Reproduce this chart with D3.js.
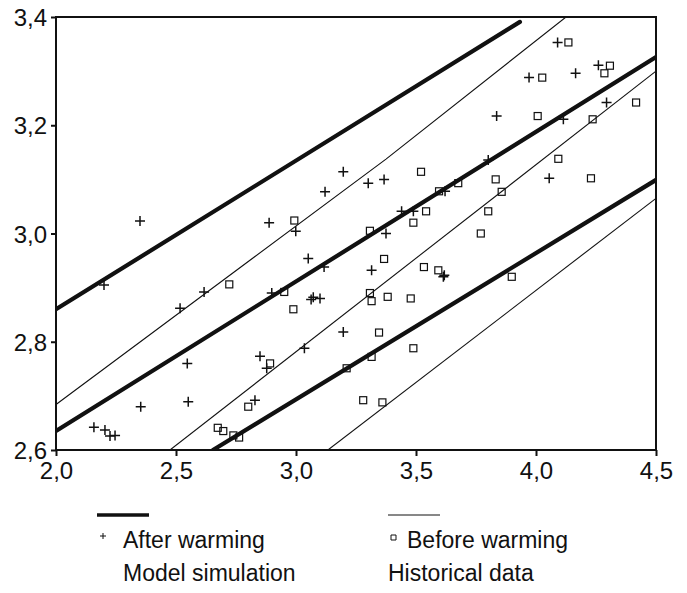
<!DOCTYPE html>
<html>
<head>
<meta charset="utf-8">
<style>
	body { margin: 0; background: #fff; }
	svg { display: block; font-family: 'Liberation Sans', Arial, sans-serif; }
	.axis text { font-size: 24px; fill: #111; }
	.legend text { font-size: 23px; fill: #111; }
</style>
</head>
<body>
<svg id="chart" width="687" height="593"></svg>
<script src="https://cdn.jsdelivr.net/npm/d3@7/dist/d3.min.js"></script>
<script>
window.app = window.app || {};

var xTicks = [2.0, 2.5, 3.0, 3.5, 4.0, 4.5],
	xTickLabels = ['2,0', '2,5', '3,0', '3,5', '4,0', '4,5'],
	yTicks = [2.6, 2.8, 3.0, 3.2, 3.4],
	yTickLabels = ['2,6', '2,8', '3,0', '3,2', '3,4'];

// + markers
var afterWarming = [
	[2.35, 3.023], [2.20, 2.905], [2.517, 2.862], [2.617, 2.892], [2.547, 2.760],
	[2.353, 2.680], [2.551, 2.689], [2.158, 2.642], [2.204, 2.637], [2.225, 2.626],
	[2.246, 2.627], [3.051, 2.954], [3.117, 2.938], [3.315, 2.932], [2.899, 2.890],
	[3.063, 2.878], [3.072, 2.882], [3.100, 2.880], [3.197, 2.818], [3.035, 2.788],
	[2.850, 2.773], [2.878, 2.751], [2.829, 2.692], [3.197, 3.114], [3.301, 3.093],
	[3.121, 3.077], [2.888, 3.020], [2.999, 3.004], [3.367, 3.100], [3.801, 3.136],
	[3.621, 3.078], [3.440, 3.041], [3.489, 3.041], [3.375, 3.000], [4.090, 3.353],
	[3.971, 3.288], [4.165, 3.296], [4.260, 3.311], [4.114, 3.211], [4.294, 3.242],
	[4.055, 3.102], [3.836, 3.217], [3.614, 2.920], [3.618, 2.923]
];

// square markers
var beforeWarming = [
	[2.722, 2.906], [2.674, 2.641], [2.697, 2.635], [2.739, 2.627], [2.763, 2.623],
	[2.951, 2.892], [2.989, 2.860], [3.308, 2.890], [3.315, 2.875], [2.892, 2.760],
	[3.315, 2.772], [3.211, 2.751], [3.280, 2.692], [2.801, 2.680], [2.993, 3.024],
	[3.308, 3.005], [3.521, 3.114], [3.832, 3.100], [3.596, 3.078], [3.676, 3.093],
	[3.857, 3.077], [3.542, 3.041], [3.489, 3.020], [3.801, 3.041], [3.770, 3.000],
	[4.135, 3.353], [4.026, 3.288], [4.308, 3.310], [4.285, 3.296], [4.007, 3.217],
	[4.417, 3.242], [4.236, 3.211], [4.093, 3.138], [4.229, 3.102], [3.367, 2.953],
	[3.533, 2.938], [3.593, 2.932], [3.899, 2.920], [3.382, 2.883], [3.478, 2.880],
	[3.346, 2.817], [3.489, 2.788], [3.360, 2.688]
];

// model simulation (thick) and historical data (thin) lines
var modelLines = [
	[[2.0, 2.860], [3.933, 3.391]],
	[[2.0, 2.635], [4.5, 3.326]],
	[[2.654, 2.6], [4.5, 3.099]]
];

var historicalLines = [
	[[2.0, 2.684], [3.375, 3.1375], [4.125, 3.4]],
	[[2.475, 2.6], [4.5, 3.300]],
	[[3.133, 2.6], [4.5, 3.065]]
];

var legendItems = [
	{ marker: 'plus', label: 'After warming', line: 'Model simulation', thick: true },
	{ marker: 'square', label: 'Before warming', line: 'Historical data', thick: false }
];

app.scatter = (function() {

	'use strict';

	var createChart = function() {
		var svg = d3.select('#chart'),
			margin = { top: 17, right: 31, bottom: 143, left: 56 },
			width = +svg.attr('width') - margin.left - margin.right,
			height = +svg.attr('height') - margin.top - margin.bottom,
			ink = '#111';

		var xScale = d3.scaleLinear()
				.domain([2.0, 4.5])
				.range([0, width]);

		var yScale = d3.scaleLinear()
				.domain([2.6, 3.4])
				.range([height, 0]);

		var g = svg.append('g')
			.attr('transform', 'translate(' + margin.left + ',' + margin.top + ')');

		g.append('clipPath')
			.attr('id', 'plot-clip')
			.append('rect')
			.attr('width', width)
			.attr('height', height);

		var line = d3.line()
			.x(function(d) { return xScale(d[0]); })
			.y(function(d) { return yScale(d[1]); });

		var lines = g.append('g').attr('clip-path', 'url(#plot-clip)');

		lines.selectAll('.hist-line')
			.data(historicalLines)
			.enter()
			.append('path')
			.attr('d', line)
			.attr('fill', 'none')
			.attr('stroke', ink)
			.attr('stroke-width', 1.1);

		lines.selectAll('.model-line')
			.data(modelLines)
			.enter()
			.append('path')
			.attr('d', line)
			.attr('fill', 'none')
			.attr('stroke', ink)
			.attr('stroke-width', 4.2)
			.attr('stroke-linecap', 'round');

		// squares
		g.selectAll('.sq')
			.data(beforeWarming)
			.enter()
			.append('rect')
			.attr('x', function(d) { return xScale(d[0]) - 3.5; })
			.attr('y', function(d) { return yScale(d[1]) - 3.5; })
			.attr('width', 7)
			.attr('height', 7)
			.attr('fill', 'none')
			.attr('stroke', ink)
			.attr('stroke-width', 1.2);

		// pluses
		g.selectAll('.plus')
			.data(afterWarming)
			.enter()
			.append('path')
			.attr('d', function(d) {
				var x = xScale(d[0]), y = yScale(d[1]);
				return 'M' + (x - 5) + ',' + y + 'H' + (x + 5) + 'M' + x + ',' + (y - 5) + 'V' + (y + 5);
			})
			.attr('stroke', ink)
			.attr('stroke-width', 1.5);

		// axes
		var xAxis = d3.axisBottom(xScale)
				.tickValues(xTicks)
				.tickSize(6)
				.tickPadding(6)
				.tickFormat(function(d, i) { return xTickLabels[i]; }),
			yAxis = d3.axisLeft(yScale)
				.tickValues(yTicks)
				.tickSize(5)
				.tickPadding(4)
				.tickFormat(function(d, i) { return yTickLabels[i]; });

		g.append('g')
			.attr('class', 'axis')
			.attr('transform', 'translate(0,' + height + ')')
			.call(xAxis)
			.call(function(a) { a.select('.domain').remove(); })
			.selectAll('text')
			.attr('dy', '0.72em');

		g.append('g')
			.attr('class', 'axis')
			.call(yAxis)
			.call(function(a) { a.select('.domain').remove(); })
			.selectAll('text')
			.attr('dy', '0.36em');

		g.selectAll('.axis line').attr('stroke', ink).attr('stroke-width', 2);

		// frame
		g.append('rect')
			.attr('width', width)
			.attr('height', height)
			.attr('fill', 'none')
			.attr('stroke', ink)
			.attr('stroke-width', 2);

		// legend
		var legend = svg.append('g').attr('class', 'legend');

		var item = legend.selectAll('.item')
			.data(legendItems)
			.enter()
			.append('g')
			.attr('transform', function(d, i) {
				return 'translate(' + (i === 0 ? 97 : 388) + ',0)';
			});

		item.append('line')
			.attr('x1', 0)
			.attr('x2', function(d) { return d.thick ? 52 : 52; })
			.attr('y1', 515)
			.attr('y2', 515)
			.attr('stroke', ink)
			.attr('stroke-width', function(d) { return d.thick ? 3.5 : 1; });

		item.append('path')
			.attr('d', function(d) {
				return d.marker === 'plus' ?
					'M3,536H9M6,533V539' :
					'M3,535h5v5h-5z';
			})
			.attr('fill', 'none')
			.attr('stroke', ink)
			.attr('stroke-width', 1);

		item.append('text')
			.attr('x', function(d) { return d.thick ? 26 : 19; })
			.attr('y', 548)
			.text(function(d) { return d.label; });

		item.append('text')
			.attr('x', function(d) { return d.thick ? 26 : 0; })
			.attr('y', 581)
			.text(function(d) { return d.line; });
	};

	var init = function() {
		createChart();
	};

	return {
		init: init
	};

})();

app.scatter.init();
</script>
</body>
</html>
